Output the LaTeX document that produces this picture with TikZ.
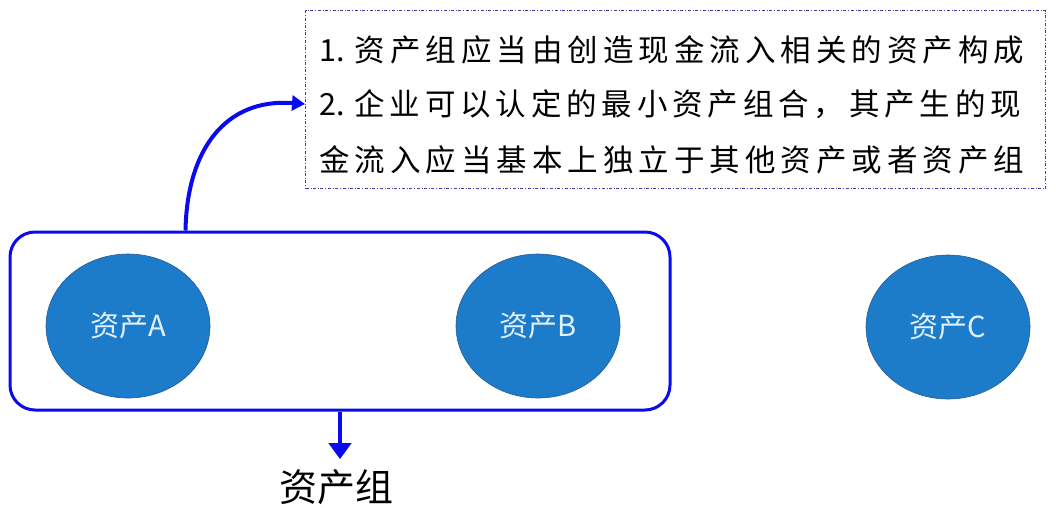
\documentclass[tikz,border=0pt]{standalone}
\usepackage{fontspec}
\setmainfont{Liberation Serif}
\newfontfamily\cjk{Noto Sans CJK SC}
\usetikzlibrary{arrows.meta,shapes.geometric}
\definecolor{lineblue}{RGB}{10,10,240}
\definecolor{fillblue}{RGB}{28,124,202}
\definecolor{edgeblue}{RGB}{40,90,150}
\definecolor{boxpurple}{RGB}{70,60,160}
\definecolor{lighttext}{RGB}{225,240,255}
\makeatletter
\newcommand\distr[2]{\makebox[#1][s]{\@tfor\dtok:=#2\do{\dtok\hfill}\unskip}}
\makeatother
\tikzset{
  asset/.style={ellipse, fill=fillblue, draw=edgeblue, line width=0.6pt,
    minimum width=164pt, minimum height=144pt, inner sep=0pt,
    text=lighttext, font=\cjk\fontsize{29}{31}\selectfont},
  txtline/.style={anchor=west, inner sep=0pt, font=\cjk\fontsize{30.5}{32}\selectfont},
  bluearrow/.style={draw=lineblue, line width=4pt},
}
\begin{document}
\begin{tikzpicture}[x=1pt,y=-1pt]
\useasboundingbox (0,0) rectangle (1056,507);
% text box
\node[draw=boxpurple, dash dot, line width=1pt, minimum width=740pt, minimum height=178pt,
  anchor=north west, inner sep=0pt] (tbox) at (305,10) {};
\node[txtline] (l1) at (319,50) {\distr{705pt}{{1.\kern5pt}资产组应当由创造现金流入相关的资产构成}};
\node[txtline] (l2) at (319,104) {\distr{702pt}{{2.\kern5pt}企业可以认定的最小资产组合，其产生的现}};
\node[txtline] (l3) at (319,160) {\distr{705pt}{金流入应当基本上独立于其他资产或者资产组}};
% group box
\node[draw=lineblue, line width=3pt, rounded corners=25pt, minimum width=660pt,
  minimum height=178pt, inner sep=0pt] (grp) at (340,321) {};
\node[asset] (A) at (128,326) {资产A};
\node[asset] (B) at (538,326) {资产B};
\node[asset] (C) at (948,327) {资产C};
% label
\node[font=\cjk\fontsize{38}{40}\selectfont, inner sep=0pt] (lab) at (336,487) {资产组};
% arrows
\path (grp.north west) ++(177,0) coordinate (s);
\draw[bluearrow, -{Triangle[length=13pt,width=15pt]}]
  (s) .. controls (187,150) and (225,98) .. (tbox.west |- l2.west);
\draw[bluearrow, -{Triangle[length=16pt,width=22pt]}, shorten >=10pt]
  (grp.south) -- (grp.south |- lab.north);
\end{tikzpicture}
\end{document}
